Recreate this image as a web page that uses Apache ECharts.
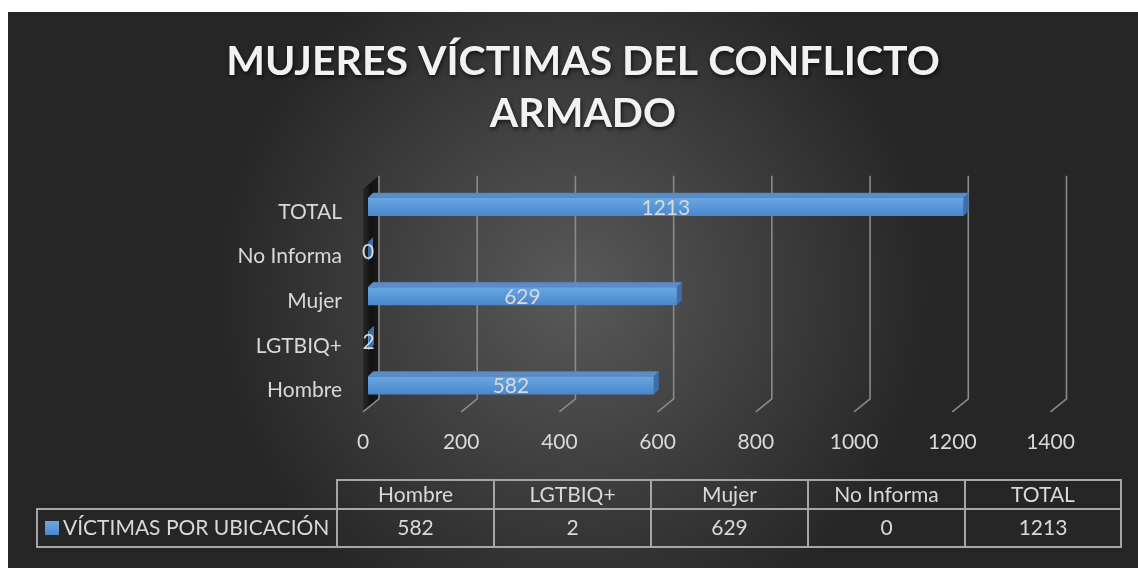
<!DOCTYPE html>
<html>
<head>
<meta charset="utf-8">
<script src="https://cdn.jsdelivr.net/npm/echarts@6/dist/echarts.min.js"></script>
<style>
  html, body { margin: 0; padding: 0; background: #fff; }
  #chart { width: 1138px; height: 568px; }
</style>
</head>
<body>
<div id="chart"></div>
<script>
// datos
const categories = ['Hombre', 'LGTBIQ+', 'Mujer', 'No Informa', 'TOTAL']
const values = [582, 2, 629, 0, 1213]
const xTicks = [0, 200, 400, 600, 800, 1000, 1200, 1400]
const seriesName = 'VÍCTIMAS POR UBICACIÓN'
const titleText = 'MUJERES VÍCTIMAS DEL CONFLICTO\nARMADO'

const FONT = 'Lato'
const TXT = '#d9d9d9'
const LINE = '#a6a6a6'
const FS = 21

const myChart = echarts.init(document.getElementById('chart'))

// tabla de datos abajo
function buildTable() {
  const colX = [337, 494, 651, 808, 965, 1121]
  const y0 = 480, y1 = 509, y2 = 547
  const els = []
  // bordes
  els.push({ type: 'polyline', shape: { points: [[colX[0], y2], [colX[0], y0], [colX[5], y0], [colX[5], y2], [37, y2], [37, y1], [colX[5], y1]] },
    style: { stroke: LINE, lineWidth: 2, fill: null } })
  for (let i = 0; i < categories.length; i++) {
    if (i > 0) {
      els.push({ type: 'line', shape: { x1: colX[i], y1: y0, x2: colX[i], y2: y2 }, style: { stroke: LINE, lineWidth: 2 } })
    }
    const cx = (colX[i] + colX[i + 1]) / 2
    els.push({ type: 'text', x: cx, y: (y0 + y1) / 2 + 1, style: { text: categories[i], fill: TXT, font: FS + 'px ' + FONT, align: 'center', verticalAlign: 'middle' } })
    els.push({ type: 'text', x: cx, y: (y1 + y2) / 2, style: { text: String(values[i]), fill: TXT, font: FS + 'px ' + FONT, align: 'center', verticalAlign: 'middle' } })
  }
  els.push({ type: 'rect', shape: { x: 45, y: 521, width: 14, height: 14 },
    style: { fill: new echarts.graphic.LinearGradient(0, 0, 0, 1, [{ offset: 0, color: '#6ea8e2' }, { offset: 1, color: '#4a88cc' }]) } })
  els.push({ type: 'text', x: 63, y: (y1 + y2) / 2, style: { text: seriesName, fill: TXT, font: FS + 'px ' + FONT, align: 'left', verticalAlign: 'middle' } })
  return els
}

myChart.setOption({
  animation: false,
  title: {
    text: titleText,
    left: 578,
    textAlign: 'center',
    top: 31,
    textStyle: {
      color: '#f2f2f2',
      fontFamily: FONT,
      fontWeight: 'bold',
      fontSize: 41,
      lineHeight: 52,
      textShadowColor: 'rgba(0,0,0,0.7)',
      textShadowBlur: 4,
      textShadowOffsetX: 1,
      textShadowOffsetY: 2
    }
  },
  graphic: [
    {
      type: 'rect',
      z: -10,
      shape: { x: 8, y: 12, width: 1130, height: 556 },
      style: {
        fill: new echarts.graphic.RadialGradient(0.5, 0.5, 0.65, [
          { offset: 0, color: '#595959' },
          { offset: 1, color: '#262626' }
        ])
      }
    },
    { type: 'group', children: buildTable() }
  ],
  grid: [
    { left: 368, right: 82.5, top: 184.7, bottom: 160.2 },
    // rejilla auxiliar solo para las etiquetas de categorias (un poco mas abajo)
    { left: 368, right: 82.5, top: 189.7, bottom: 155.2 }
  ],
  xAxis: [
    {
      type: 'value',
      gridIndex: 0,
      min: 0,
      max: 1400,
      interval: 200,
      axisLine: { show: false },
      axisTick: { show: false },
      splitLine: { show: false },
      axisLabel: { color: TXT, fontFamily: FONT, fontSize: FS, margin: 24, padding: [0, 10, 0, 0], formatter: v => String(v) }
    },
    { type: 'value', gridIndex: 1, min: 0, max: 1400, show: false }
  ],
  yAxis: [
    {
      type: 'category',
      gridIndex: 0,
      data: categories,
      axisLine: { show: false },
      axisTick: { show: false },
      axisLabel: { show: false }
    },
    {
      type: 'category',
      gridIndex: 1,
      data: categories,
      axisLine: { show: false },
      axisTick: { show: false },
      splitLine: { show: false },
      axisLabel: { color: TXT, fontFamily: FONT, fontSize: FS, margin: 26 }
    }
  ],
  series: [
    {
      // lineas de division con su pie 3D
      type: 'custom',
      z: 1,
      silent: true,
      data: xTicks.map(v => [v, 0]),
      encode: { x: 0, y: 1 },
      renderItem: function (params, api) {
        const cs = params.coordSys
        const X = api.coord([api.value(0), 0])[0]
        const top = cs.y - 9
        const bot = cs.y + cs.height - 9
        const children = []
        if (api.value(0) === 0) {
          children.push({
            type: 'polygon',
            shape: { points: [[X + 11, top], [X + 11, bot], [X - 5, bot + 13], [X - 5, top + 13]] },
            style: { fill: new echarts.graphic.LinearGradient(0, 0, 1, 0, [{ offset: 0, color: '#2a2a2a' }, { offset: 0.5, color: '#111' }, { offset: 1, color: '#1a1a1a' }]) }
          })
        }
        children.push({
          type: 'polyline',
          shape: { points: [[X + 11, top], [X + 11, bot], [X - 5, bot + 13]] },
          style: { stroke: '#8a8a8a', lineWidth: 1.6, fill: null }
        })
        return { type: 'group', children: children }
      }
    },
    {
      name: seriesName,
      type: 'custom',
      z: 3,
      data: values.map((v, i) => [v, i]),
      encode: { x: 0, y: 1 },
      renderItem: function (params, api) {
        const idx = api.value(1)
        const val = api.value(0)
        const a = api.coord([0, idx])
        const b = api.coord([val, idx])
        const h = 18, dx = 5, dy = -5
        const y0 = a[1] - h / 2
        return {
          type: 'group',
          children: [
            {
              type: 'polygon',
              shape: { points: [[a[0], y0], [a[0] + dx, y0 + dy], [b[0] + dx, y0 + dy], [b[0], y0]] },
              style: { fill: '#5a8cc6', stroke: '#4f80ba', lineWidth: 0.5 }
            },
            {
              type: 'polygon',
              shape: { points: [[b[0], y0], [b[0] + dx, y0 + dy], [b[0] + dx, y0 + dy + h], [b[0], y0 + h]] },
              style: { fill: '#3d6ea8' }
            },
            {
              type: 'rect',
              shape: { x: a[0], y: y0, width: b[0] - a[0], height: h },
              style: {
                fill: new echarts.graphic.LinearGradient(0, 0, 0, 1, [
                  { offset: 0, color: '#6aa6e2' },
                  { offset: 1, color: '#4887cc' }
                ])
              }
            },
            {
              type: 'text',
              x: (a[0] + b[0]) / 2,
              y: a[1] + 1,
              style: { text: String(val), fill: TXT, font: FS + 'px ' + FONT, align: 'center', verticalAlign: 'middle' }
            }
          ]
        }
      }
    }
  ]
})
</script>
</body>
</html>
